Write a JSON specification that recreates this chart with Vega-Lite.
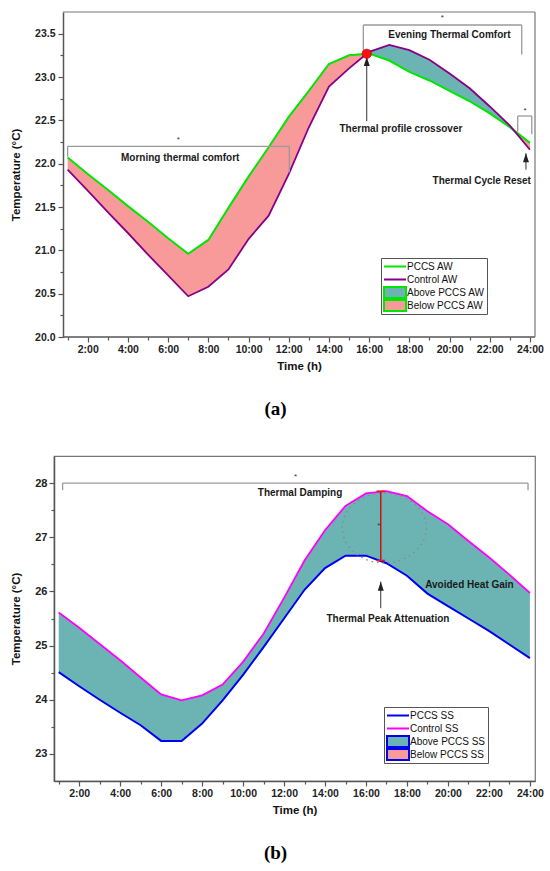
{
  "$schema": "https://vega.github.io/schema/vega-lite/v6.json",
  "background": "white",
  "padding": {"top": 11, "left": 10, "right": 0, "bottom": 0},
  "spacing": 36,
  "resolve": {"scale": {"fill": "independent", "stroke": "independent", "shape": "independent"}, "legend": {"fill": "independent", "stroke": "independent", "shape": "independent"}},
  "datasets": {
    "top": [
      {"hour": 1, "pccs": 22.07, "control": 21.93},
      {"hour": 2, "pccs": 21.88, "control": 21.69},
      {"hour": 3, "pccs": 21.70, "control": 21.44},
      {"hour": 4, "pccs": 21.51, "control": 21.20},
      {"hour": 5, "pccs": 21.33, "control": 20.95},
      {"hour": 6, "pccs": 21.14, "control": 20.71},
      {"hour": 7, "pccs": 20.96, "control": 20.47},
      {"hour": 8, "pccs": 21.12, "control": 20.58},
      {"hour": 9, "pccs": 21.49, "control": 20.78},
      {"hour": 10, "pccs": 21.85, "control": 21.13},
      {"hour": 11, "pccs": 22.19, "control": 21.40},
      {"hour": 12, "pccs": 22.54, "control": 21.88},
      {"hour": 13, "pccs": 22.84, "control": 22.42},
      {"hour": 14, "pccs": 23.15, "control": 22.89},
      {"hour": 15, "pccs": 23.25, "control": 23.10},
      {"hour": 15.88, "pccs": 23.268, "control": 23.268},
      {"hour": 16, "pccs": 23.27, "control": 23.29},
      {"hour": 17, "pccs": 23.19, "control": 23.37},
      {"hour": 18, "pccs": 23.06, "control": 23.31},
      {"hour": 19, "pccs": 22.96, "control": 23.20},
      {"hour": 20, "pccs": 22.84, "control": 23.04},
      {"hour": 21, "pccs": 22.72, "control": 22.87},
      {"hour": 22, "pccs": 22.58, "control": 22.66},
      {"hour": 23, "pccs": 22.42, "control": 22.44},
      {"hour": 23.2, "pccs": 22.384, "control": 22.384},
      {"hour": 24, "pccs": 22.24, "control": 22.16}
    ],
    "bottom": [
      {"hour": 1, "pccs": 24.51, "control": 25.61},
      {"hour": 2, "pccs": 24.25, "control": 25.33},
      {"hour": 3, "pccs": 24.00, "control": 25.03},
      {"hour": 4, "pccs": 23.76, "control": 24.73},
      {"hour": 5, "pccs": 23.53, "control": 24.41},
      {"hour": 6, "pccs": 23.24, "control": 24.10},
      {"hour": 7, "pccs": 23.24, "control": 23.99},
      {"hour": 8, "pccs": 23.56, "control": 24.08},
      {"hour": 9, "pccs": 23.99, "control": 24.28},
      {"hour": 10, "pccs": 24.46, "control": 24.70},
      {"hour": 11, "pccs": 24.97, "control": 25.22},
      {"hour": 12, "pccs": 25.50, "control": 25.88},
      {"hour": 13, "pccs": 26.03, "control": 26.57},
      {"hour": 14, "pccs": 26.43, "control": 27.13},
      {"hour": 15, "pccs": 26.66, "control": 27.58},
      {"hour": 16, "pccs": 26.66, "control": 27.81},
      {"hour": 17, "pccs": 26.52, "control": 27.85},
      {"hour": 18, "pccs": 26.29, "control": 27.76},
      {"hour": 19, "pccs": 25.96, "control": 27.48},
      {"hour": 20, "pccs": 25.73, "control": 27.24},
      {"hour": 21, "pccs": 25.50, "control": 26.93},
      {"hour": 22, "pccs": 25.27, "control": 26.63},
      {"hour": 23, "pccs": 25.02, "control": 26.31},
      {"hour": 24, "pccs": 24.77, "control": 25.97}
    ],
    "top_legend": [
      {"series": "PCCS AW"},
      {"series": "Control AW"},
      {"series": "Above PCCS AW"},
      {"series": "Below PCCS AW"}
    ],
    "bottom_legend": [
      {"series": "PCCS SS"},
      {"series": "Control SS"},
      {"series": "Above PCCS SS"},
      {"series": "Below PCCS SS"}
    ],
    "top_guides": [
      {"kind": "axisline", "hour": 0.77, "temp": 20, "hour2": 24.25, "temp2": 20},
      {"kind": "frame", "hour": 0.77, "temp": 23.75, "hour2": 24.25, "temp2": 23.75},
      {"kind": "frame", "hour": 24.25, "temp": 20, "hour2": 24.25, "temp2": 23.75},
      {"kind": "bracket", "hour": 1.0, "temp": 22.20, "hour2": 12.03, "temp2": 22.20},
      {"kind": "bracket", "hour": 1.0, "temp": 22.20, "hour2": 1.0, "temp2": 22.08},
      {"kind": "bracket", "hour": 12.03, "temp": 22.20, "hour2": 12.03, "temp2": 21.90},
      {"kind": "bracket", "hour": 15.71, "temp": 23.60, "hour2": 23.59, "temp2": 23.60},
      {"kind": "bracket", "hour": 15.71, "temp": 23.60, "hour2": 15.71, "temp2": 23.29},
      {"kind": "bracket", "hour": 23.59, "temp": 23.60, "hour2": 23.59, "temp2": 23.26},
      {"kind": "bracket", "hour": 23.39, "temp": 22.55, "hour2": 24.09, "temp2": 22.55},
      {"kind": "bracket", "hour": 23.39, "temp": 22.55, "hour2": 23.39, "temp2": 22.37},
      {"kind": "bracket", "hour": 24.09, "temp": 22.55, "hour2": 24.09, "temp2": 22.34},
      {"kind": "arrow", "hour": 15.88, "temp": 22.49, "hour2": 15.88, "temp2": 23.23},
      {"kind": "arrow", "hour": 23.8, "temp": 21.93, "hour2": 23.8, "temp2": 22.12}
    ],
    "top_notes": [
      {"hour": 6.51, "temp": 22.30, "text": "*"},
      {"hour": 6.6, "temp": 22.07, "text": "Morning thermal comfort"},
      {"hour": 19.64, "temp": 23.70, "text": "*"},
      {"hour": 19.99, "temp": 23.49, "text": "Evening Thermal Comfort"},
      {"hour": 17.58, "temp": 22.40, "text": "Thermal profile crossover"},
      {"hour": 23.76, "temp": 22.63, "text": "*"},
      {"hour": 21.6, "temp": 21.80, "text": "Thermal Cycle Reset"}
    ],
    "bottom_guides": [
      {"kind": "bracket", "hour": 1.19, "temp": 28.0, "hour2": 23.91, "temp2": 28.0},
      {"kind": "bracket", "hour": 1.19, "temp": 28.0, "hour2": 1.19, "temp2": 27.87},
      {"kind": "bracket", "hour": 23.91, "temp": 28.0, "hour2": 23.91, "temp2": 27.87},
      {"kind": "arrow", "hour": 16.72, "temp": 25.69, "hour2": 16.72, "temp2": 26.18},
      {"kind": "peak", "hour": 16.72, "temp": 26.57, "hour2": 16.72, "temp2": 27.85},
      {"kind": "ring", "hour": 16.89, "temp": 27.17, "hour2": 16.89, "temp2": 27.17}
    ],
    "bottom_notes": [
      {"hour": 12.56, "temp": 28.15, "text": "*"},
      {"hour": 12.78, "temp": 27.81, "text": "Thermal Damping"},
      {"hour": 16.63, "temp": 27.24, "text": "*"},
      {"hour": 17.07, "temp": 25.50, "text": "Thermal Peak Attenuation"},
      {"hour": 21.05, "temp": 26.11, "text": "Avoided Heat Gain"}
    ]
  },
  "vconcat": [
    {
      "width": 481,
      "height": 325,
      "view": {"stroke": null},
      "title": {"text": "(a)", "orient": "bottom", "frame": "group", "anchor": "middle", "offset": 28, "dx": -19, "font": "Liberation Serif", "fontSize": 19, "fontWeight": "bold", "color": "#000"},
      "resolve": {"axis": {"x": "independent", "y": "independent"}},
      "layer": [
        {
          "data": {"name": "top"},
          "transform": [{"filter": "datum.hour <= 15.88"}],
          "mark": {"type": "area", "opacity": 1, "color": "#F99A9A"},
          "encoding": {
            "x": {"field": "hour", "type": "quantitative", "scale": {"domain": [0.322, 24.25], "nice": false, "zero": false}, "axis": null},
            "y": {"field": "pccs", "type": "quantitative", "scale": {"domain": [20, 23.75], "nice": false, "zero": false}, "axis": null},
            "y2": {"field": "control"}
          }
        },
        {
          "data": {"name": "top"},
          "transform": [{"filter": "datum.hour >= 15.88 && datum.hour <= 23.2"}],
          "mark": {"type": "area", "opacity": 1, "color": "#6CB4B4"},
          "encoding": {
            "x": {"field": "hour", "type": "quantitative", "axis": null},
            "y": {"field": "pccs", "type": "quantitative", "axis": null},
            "y2": {"field": "control"}
          }
        },
        {
          "data": {"name": "top"},
          "transform": [{"filter": "datum.hour >= 23.2"}],
          "mark": {"type": "area", "opacity": 1, "color": "#F99A9A"},
          "encoding": {
            "x": {"field": "hour", "type": "quantitative", "axis": null},
            "y": {"field": "pccs", "type": "quantitative", "axis": null},
            "y2": {"field": "control"}
          }
        },
        {
          "data": {"name": "top"},
          "mark": {"type": "line", "strokeWidth": 2, "color": "#00E600"},
          "encoding": {
            "x": {"field": "hour", "type": "quantitative", "axis": {"orient": "bottom", "values": [2, 4, 6, 8, 10, 12, 14, 16, 18, 20, 22, 24], "labelExpr": "datum.value + ':00'", "title": "Time (h)", "domain": false, "tickSize": 5, "labelPadding": 2, "titlePadding": 6, "titleX": 245}},
            "y": {"field": "pccs", "type": "quantitative", "axis": {"orient": "left", "offset": -9, "values": [20, 20.5, 21, 21.5, 22, 22.5, 23, 23.5], "format": ".1f", "title": "Temperature (°C)", "tickSize": 5, "labelPadding": 3, "titlePadding": 13}}
          }
        },
        {
          "data": {"name": "top"},
          "mark": {"type": "line", "strokeWidth": 1.8, "color": "#880088"},
          "encoding": {
            "x": {"field": "hour", "type": "quantitative", "axis": {"orient": "bottom", "values": [1, 3, 5, 7, 9, 11, 13, 15, 17, 19, 21, 23], "labels": false, "domain": false, "title": null, "tickSize": 3}},
            "y": {"field": "control", "type": "quantitative", "axis": {"orient": "left", "offset": -9, "values": [20.25, 20.75, 21.25, 21.75, 22.25, 22.75, 23.25], "labels": false, "domain": false, "title": null, "tickSize": 3}}
          }
        },
        {
          "data": {"name": "top_guides"},
          "transform": [{"filter": "datum.kind == 'axisline'"}],
          "mark": {"type": "rule", "color": "#555", "strokeWidth": 1.5},
          "encoding": {
            "x": {"field": "hour", "type": "quantitative", "axis": null},
            "y": {"field": "temp", "type": "quantitative", "axis": null},
            "x2": {"field": "hour2"},
            "y2": {"field": "temp2"}
          }
        },
        {
          "data": {"name": "top_guides"},
          "transform": [{"filter": "datum.kind == 'frame'"}],
          "mark": {"type": "rule", "color": "#777", "strokeWidth": 1.2},
          "encoding": {
            "x": {"field": "hour", "type": "quantitative", "axis": null},
            "y": {"field": "temp", "type": "quantitative", "axis": null},
            "x2": {"field": "hour2"},
            "y2": {"field": "temp2"}
          }
        },
        {
          "data": {"name": "top_guides"},
          "transform": [{"filter": "datum.kind == 'bracket'"}],
          "mark": {"type": "rule", "color": "#9A9A9A", "strokeWidth": 1.3},
          "encoding": {
            "x": {"field": "hour", "type": "quantitative", "axis": null},
            "y": {"field": "temp", "type": "quantitative", "axis": null},
            "x2": {"field": "hour2"},
            "y2": {"field": "temp2"}
          }
        },
        {
          "data": {"name": "top_guides"},
          "transform": [{"filter": "datum.kind == 'arrow'"}],
          "mark": {"type": "rule", "color": "#333", "strokeWidth": 1},
          "encoding": {
            "x": {"field": "hour", "type": "quantitative", "axis": null},
            "y": {"field": "temp", "type": "quantitative", "axis": null},
            "x2": {"field": "hour2"},
            "y2": {"field": "temp2"}
          }
        },
        {
          "data": {"name": "top_guides"},
          "transform": [{"filter": "datum.kind == 'arrow'"}],
          "mark": {"type": "point", "shape": "M0,0L0.6,1.8L-0.6,1.8Z", "filled": true, "color": "#222", "opacity": 1, "size": 100},
          "encoding": {
            "x": {"field": "hour2", "type": "quantitative", "axis": null},
            "y": {"field": "temp2", "type": "quantitative", "axis": null}
          }
        },
        {
          "data": {"name": "top"},
          "transform": [{"filter": "datum.hour == 15.88"}],
          "mark": {"type": "point", "shape": "circle", "filled": true, "fill": "#FF1010", "stroke": "#C00000", "strokeWidth": 0.8, "opacity": 1, "size": 85},
          "encoding": {
            "x": {"field": "hour", "type": "quantitative", "axis": null},
            "y": {"field": "pccs", "type": "quantitative", "axis": null}
          }
        },
        {
          "data": {"name": "top_notes"},
          "transform": [{"filter": "datum.text != '*'"}],
          "mark": {"type": "text", "font": "Liberation Sans", "fontSize": 10, "fontWeight": "bold", "color": "#1A1A1A", "baseline": "middle"},
          "encoding": {
            "x": {"field": "hour", "type": "quantitative", "axis": null},
            "y": {"field": "temp", "type": "quantitative", "axis": null},
            "text": {"field": "text"}
          }
        },
        {
          "data": {"name": "top_notes"},
          "transform": [{"filter": "datum.text == '*'"}],
          "mark": {"type": "text", "font": "Liberation Sans", "fontSize": 8, "color": "#333", "baseline": "middle", "dy": 2},
          "encoding": {
            "x": {"field": "hour", "type": "quantitative", "axis": null},
            "y": {"field": "temp", "type": "quantitative", "axis": null},
            "text": {"field": "text"}
          }
        },
        {
          "data": {"name": "top_legend"},
          "mark": {"type": "point", "opacity": 0, "filled": true},
          "encoding": {
            "fill": {
              "field": "series", "type": "nominal",
              "scale": {"domain": ["PCCS AW", "Control AW", "Above PCCS AW", "Below PCCS AW"], "range": ["transparent", "transparent", "#6CB4B4", "#F99A9A"]},
              "legend": {"orient": "none", "legendX": 327, "legendY": 246, "title": null, "strokeColor": "#555", "fillColor": "white", "padding": 2, "symbolSize": 121, "symbolStrokeWidth": 2, "symbolOpacity": 1, "clipHeight": 13, "labelFontSize": 10, "labelFontWeight": "normal", "labelColor": "#111", "labelOffset": 11, "rowPadding": 0}
            },
            "stroke": {
              "field": "series", "type": "nominal",
              "scale": {"domain": ["PCCS AW", "Control AW", "Above PCCS AW", "Below PCCS AW"], "range": ["#00E600", "#880088", "#00E600", "#00E600"]},
              "legend": {"orient": "none", "legendX": 327, "legendY": 246, "title": null, "strokeColor": "#555", "fillColor": "white", "padding": 2, "symbolSize": 121, "symbolStrokeWidth": 2, "symbolOpacity": 1, "clipHeight": 13, "labelFontSize": 10, "labelFontWeight": "normal", "labelColor": "#111", "labelOffset": 11, "rowPadding": 0}
            },
            "shape": {
              "field": "series", "type": "nominal",
              "scale": {"domain": ["PCCS AW", "Control AW", "Above PCCS AW", "Below PCCS AW"], "range": ["M-1,0H3", "M-1,0H3", "M-1,-1H3V1H-1Z", "M-1,-1H3V1H-1Z"]},
              "legend": {"orient": "none", "legendX": 327, "legendY": 246, "title": null, "strokeColor": "#555", "fillColor": "white", "padding": 2, "symbolSize": 121, "symbolStrokeWidth": 2, "symbolOpacity": 1, "clipHeight": 13, "labelFontSize": 10, "labelFontWeight": "normal", "labelColor": "#111", "labelOffset": 11, "rowPadding": 0}
            }
          }
        }
      ]
    },
    {
      "width": 481,
      "height": 325,
      "title": {"text": "(b)", "orient": "bottom", "frame": "group", "anchor": "middle", "offset": 28, "dx": -19, "font": "Liberation Serif", "fontSize": 19, "fontWeight": "bold", "color": "#000"},
      "resolve": {"axis": {"x": "independent", "y": "independent"}},
      "layer": [
        {
          "data": {"name": "bottom"},
          "mark": {"type": "area", "opacity": 1, "color": "#6CB4B4"},
          "encoding": {
            "x": {"field": "hour", "type": "quantitative", "scale": {"domain": [0.77, 24.25], "nice": false, "zero": false}, "axis": null},
            "y": {"field": "pccs", "type": "quantitative", "scale": {"domain": [22.5, 28.5], "nice": false, "zero": false}, "axis": null},
            "y2": {"field": "control"}
          }
        },
        {
          "data": {"name": "bottom"},
          "mark": {"type": "line", "strokeWidth": 2, "color": "#0000F0"},
          "encoding": {
            "x": {"field": "hour", "type": "quantitative", "axis": {"orient": "bottom", "values": [2, 4, 6, 8, 10, 12, 14, 16, 18, 20, 22, 24], "labelExpr": "datum.value + ':00'", "title": "Time (h)", "tickSize": 5, "labelPadding": 2, "titlePadding": 6}},
            "y": {"field": "pccs", "type": "quantitative", "axis": {"orient": "left", "values": [23, 24, 25, 26, 27, 28], "format": "d", "title": "Temperature (°C)", "tickSize": 5, "labelPadding": 2, "labelFontSize": 11, "titlePadding": 13}}
          }
        },
        {
          "data": {"name": "bottom"},
          "mark": {"type": "line", "strokeWidth": 1.8, "color": "#FF00FF"},
          "encoding": {
            "x": {"field": "hour", "type": "quantitative", "axis": {"orient": "bottom", "values": [1, 3, 5, 7, 9, 11, 13, 15, 17, 19, 21, 23], "labels": false, "domain": false, "title": null, "tickSize": 3}},
            "y": {"field": "control", "type": "quantitative", "axis": {"orient": "left", "values": [23.5, 24.5, 25.5, 26.5, 27.5], "labels": false, "domain": false, "title": null, "tickSize": 3}}
          }
        },
        {
          "data": {"name": "bottom_guides"},
          "transform": [{"filter": "datum.kind == 'bracket'"}],
          "mark": {"type": "rule", "color": "#9A9A9A", "strokeWidth": 1.3},
          "encoding": {
            "x": {"field": "hour", "type": "quantitative", "axis": null},
            "y": {"field": "temp", "type": "quantitative", "axis": null},
            "x2": {"field": "hour2"},
            "y2": {"field": "temp2"}
          }
        },
        {
          "data": {"name": "bottom_guides"},
          "transform": [{"filter": "datum.kind == 'ring'"}],
          "mark": {"type": "point", "shape": "M-1,0A1,0.83,0,1,1,1,0A1,0.83,0,1,1,-1,0", "filled": false, "color": "#888", "strokeWidth": 1.3, "strokeDash": [1.5, 4], "opacity": 1, "size": 7056},
          "encoding": {
            "x": {"field": "hour", "type": "quantitative", "axis": null},
            "y": {"field": "temp", "type": "quantitative", "axis": null}
          }
        },
        {
          "data": {"name": "bottom_guides"},
          "transform": [{"filter": "datum.kind == 'peak'"}],
          "mark": {"type": "rule", "color": "#C81414", "strokeWidth": 1.5},
          "encoding": {
            "x": {"field": "hour", "type": "quantitative", "axis": null},
            "y": {"field": "temp", "type": "quantitative", "axis": null},
            "x2": {"field": "hour2"},
            "y2": {"field": "temp2"}
          }
        },
        {
          "data": {"name": "bottom_guides"},
          "transform": [{"filter": "datum.kind == 'peak'"}],
          "mark": {"type": "point", "shape": "stroke", "filled": false, "color": "#E01818", "strokeWidth": 1.6, "opacity": 1, "size": 70},
          "encoding": {
            "x": {"field": "hour", "type": "quantitative", "axis": null},
            "y": {"field": "temp", "type": "quantitative", "axis": null}
          }
        },
        {
          "data": {"name": "bottom_guides"},
          "transform": [{"filter": "datum.kind == 'peak'"}],
          "mark": {"type": "point", "shape": "stroke", "filled": false, "color": "#E01818", "strokeWidth": 1.6, "opacity": 1, "size": 70},
          "encoding": {
            "x": {"field": "hour2", "type": "quantitative", "axis": null},
            "y": {"field": "temp2", "type": "quantitative", "axis": null}
          }
        },
        {
          "data": {"name": "bottom_guides"},
          "transform": [{"filter": "datum.kind == 'arrow'"}],
          "mark": {"type": "rule", "color": "#333", "strokeWidth": 1},
          "encoding": {
            "x": {"field": "hour", "type": "quantitative", "axis": null},
            "y": {"field": "temp", "type": "quantitative", "axis": null},
            "x2": {"field": "hour2"},
            "y2": {"field": "temp2"}
          }
        },
        {
          "data": {"name": "bottom_guides"},
          "transform": [{"filter": "datum.kind == 'arrow'"}],
          "mark": {"type": "point", "shape": "M0,0L0.6,1.8L-0.6,1.8Z", "filled": true, "color": "#222", "opacity": 1, "size": 100},
          "encoding": {
            "x": {"field": "hour2", "type": "quantitative", "axis": null},
            "y": {"field": "temp2", "type": "quantitative", "axis": null}
          }
        },
        {
          "data": {"name": "bottom_notes"},
          "transform": [{"filter": "datum.text != '*'"}],
          "mark": {"type": "text", "font": "Liberation Sans", "fontSize": 10, "fontWeight": "bold", "color": "#1A1A1A", "baseline": "middle"},
          "encoding": {
            "x": {"field": "hour", "type": "quantitative", "axis": null},
            "y": {"field": "temp", "type": "quantitative", "axis": null},
            "text": {"field": "text"}
          }
        },
        {
          "data": {"name": "bottom_notes"},
          "transform": [{"filter": "datum.text == '*'"}],
          "mark": {"type": "text", "font": "Liberation Sans", "fontSize": 8, "color": "#333", "baseline": "middle", "dy": 2},
          "encoding": {
            "x": {"field": "hour", "type": "quantitative", "axis": null},
            "y": {"field": "temp", "type": "quantitative", "axis": null},
            "text": {"field": "text"}
          }
        },
        {
          "data": {"name": "bottom_legend"},
          "mark": {"type": "point", "opacity": 0, "filled": true},
          "encoding": {
            "fill": {
              "field": "series", "type": "nominal",
              "scale": {"domain": ["PCCS SS", "Control SS", "Above PCCS SS", "Below PCCS SS"], "range": ["transparent", "transparent", "#6CB4B4", "#F99A9A"]},
              "legend": {"orient": "none", "legendX": 330, "legendY": 251, "title": null, "strokeColor": "#555", "fillColor": "white", "padding": 2, "symbolSize": 121, "symbolStrokeWidth": 2, "symbolOpacity": 1, "clipHeight": 13, "labelFontSize": 10, "labelFontWeight": "normal", "labelColor": "#111", "labelOffset": 11, "rowPadding": 0}
            },
            "stroke": {
              "field": "series", "type": "nominal",
              "scale": {"domain": ["PCCS SS", "Control SS", "Above PCCS SS", "Below PCCS SS"], "range": ["#0000F0", "#FF00FF", "#0000F0", "#0000F0"]},
              "legend": {"orient": "none", "legendX": 330, "legendY": 251, "title": null, "strokeColor": "#555", "fillColor": "white", "padding": 2, "symbolSize": 121, "symbolStrokeWidth": 2, "symbolOpacity": 1, "clipHeight": 13, "labelFontSize": 10, "labelFontWeight": "normal", "labelColor": "#111", "labelOffset": 11, "rowPadding": 0}
            },
            "shape": {
              "field": "series", "type": "nominal",
              "scale": {"domain": ["PCCS SS", "Control SS", "Above PCCS SS", "Below PCCS SS"], "range": ["M-1,0H3", "M-1,0H3", "M-1,-1H3V1H-1Z", "M-1,-1H3V1H-1Z"]},
              "legend": {"orient": "none", "legendX": 330, "legendY": 251, "title": null, "strokeColor": "#555", "fillColor": "white", "padding": 2, "symbolSize": 121, "symbolStrokeWidth": 2, "symbolOpacity": 1, "clipHeight": 13, "labelFontSize": 10, "labelFontWeight": "normal", "labelColor": "#111", "labelOffset": 11, "rowPadding": 0}
            }
          }
        }
      ]
    }
  ],
  "config": {
    "font": "Liberation Sans",
    "view": {"stroke": "#777", "strokeWidth": 1.2},
    "axis": {
      "grid": false,
      "labelFont": "Liberation Sans", "labelFontSize": 10.5, "labelFontWeight": "bold", "labelColor": "#222",
      "titleFont": "Liberation Sans", "titleFontSize": 11.5, "titleFontWeight": "bold", "titleColor": "#111",
      "domainColor": "#555", "domainWidth": 1.5, "tickColor": "#555", "tickWidth": 1.2,
      "labelFlush": false, "labelOverlap": false
    },
    "legend": {"labelFont": "Liberation Sans"}
  }
}
